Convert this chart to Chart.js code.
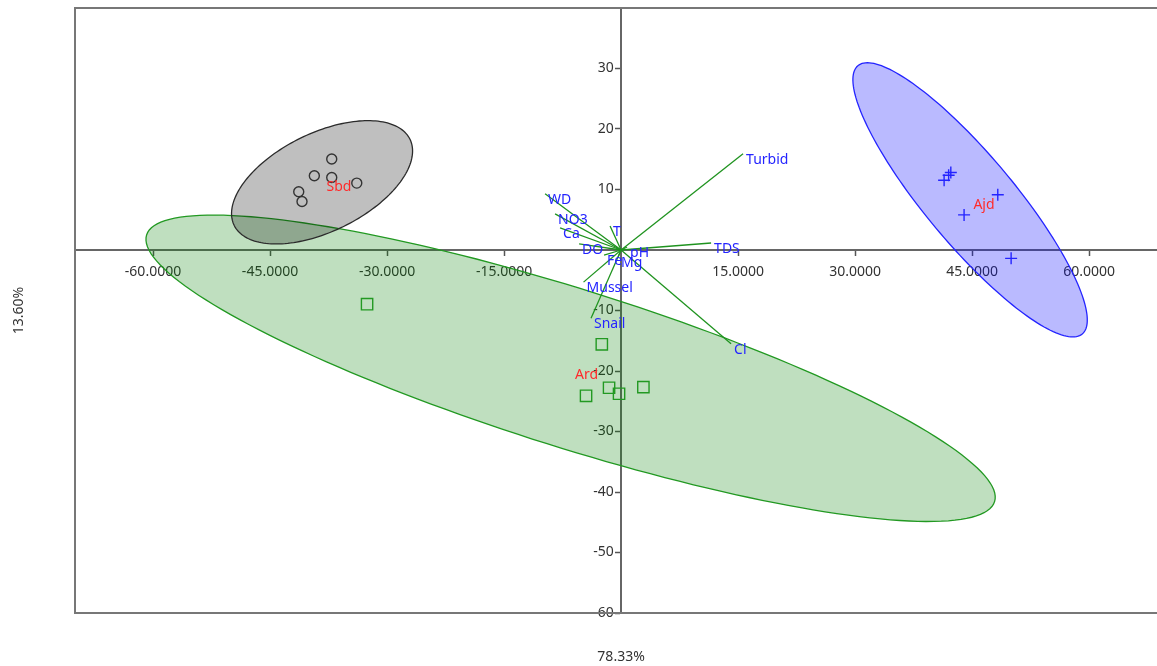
<!DOCTYPE html>
<html>
<head>
<meta charset="utf-8">
<script src="https://cdn.jsdelivr.net/npm/chart.js@4"></script>
<style>
  body { margin: 0; background: #fff; }
</style>
</head>
<body>
<canvas id="myChart" width="1157" height="666"></canvas>
<script>
// group scores (PC1, PC2)
var groupNames = ['Sbd', 'Ard', 'Ajd'];
var sbdPoints = [[-37.09, 15.04], [-39.32, 12.27], [-37.09, 11.99], [-33.88, 11.06], [-41.32, 9.62], [-40.90, 8.01]];
var ardPoints = [[-32.56, -8.96], [-2.47, -15.59], [-4.49, -24.10], [-1.54, -22.77], [-0.26, -23.76], [2.86, -22.67]];
var ajdPoints = [[42.27, 12.82], [41.99, 12.35], [41.41, 11.53], [48.29, 9.12], [43.97, 5.80], [50.00, -1.38]];

// 95% ellipses: centre and two half-axis vectors (data units)
var ellipseCenter = [[-38.33, 11.19], [-6.47, -19.55], [44.74, 8.29]];
var ellipseAxisA  = [[11.27, 7.11], [54.35, -22.04], [14.38, -22.17]];
var ellipseAxisB  = [[2.76, -7.30], [-3.02, -12.47], [-4.35, -4.71]];

// variable loadings
var variableNames = ['Turbid', 'TDS', 'Cl', 'WD', 'NO3', 'Ca', 'T', 'DO', 'Fe', 'Mg', 'pH', 'Mussel', 'Snail'];
var variableX = [15.64, 11.54, 14.10, -9.74, -8.46, -7.82, -1.41, -5.38, -2.18, -0.38, 0.77, -4.81, -3.85];
var variableY = [15.92, 1.16, -15.51, 9.29, 5.97, 3.65, 3.98, 1.00, -0.83, -1.16, 0.50, -5.31, -11.28];

var xTickValues = [-60, -45, -30, -15, 15, 30, 45, 60];
var yTickValues = [-60, -50, -40, -30, -20, -10, 10, 20, 30];
var xTitle = '78.33%';
var yTitle = '13.60%';

var groupColor = ['#2b2b2b', '#229922', '#2424ff'];
var groupFill = ['rgba(0,0,0,0.25)', 'rgba(0,128,0,0.25)', 'rgba(0,0,255,0.27)'];
var FONT = '"Noto Sans", "Open Sans", sans-serif';

function toXY(arr) {
    return arr.map(function (p) { return {x: p[0], y: p[1]}; });
}

var datasets = [];
variableNames.forEach(function (name, i) {
    datasets.push({
        label: name,
        data: [{x: 0, y: 0}, {x: variableX[i], y: variableY[i]}],
        showLine: true,
        borderColor: '#1f931f',
        borderWidth: 1.3,
        pointRadius: 0
    });
});
datasets.push({
    label: 'Sbd', data: toXY(sbdPoints), pointStyle: 'circle', pointRadius: 5,
    borderColor: '#333', backgroundColor: 'rgba(0,0,0,0)', borderWidth: 1.4
});
datasets.push({
    label: 'Ard', data: toXY(ardPoints), pointStyle: 'rect', pointRadius: 8,
    borderColor: '#229922', backgroundColor: 'rgba(0,0,0,0)', borderWidth: 1.4
});
datasets.push({
    label: 'Ajd', data: toXY(ajdPoints), pointStyle: 'cross', pointRadius: 6,
    borderColor: '#2424ff', borderWidth: 1.4
});

var ellipses = {
    id: 'ellipses',
    beforeDatasetsDraw: function (chart) {
        var ctx = chart.ctx, xs = chart.scales.x, ys = chart.scales.y, a = chart.chartArea;
        ctx.save();
        ctx.beginPath();
        ctx.rect(a.left, a.top, a.right - a.left, a.bottom - a.top);
        ctx.clip();
        [1, 0, 2].forEach(function (i) {
            var c = ellipseCenter[i], u = ellipseAxisA[i], v = ellipseAxisB[i];
            ctx.beginPath();
            for (var k = 0; k <= 180; k++) {
                var t = k / 180 * 2 * Math.PI;
                var px = xs.getPixelForValue(c[0] + u[0] * Math.cos(t) + v[0] * Math.sin(t));
                var py = ys.getPixelForValue(c[1] + u[1] * Math.cos(t) + v[1] * Math.sin(t));
                if (k === 0) ctx.moveTo(px, py); else ctx.lineTo(px, py);
            }
            ctx.closePath();
            ctx.fillStyle = groupFill[i];
            ctx.fill();
            ctx.lineWidth = 1.3;
            ctx.strokeStyle = groupColor[i];
            ctx.stroke();
        });
        ctx.restore();
    }
};

var labelsAndFrame = {
    id: 'labelsAndFrame',
    afterDraw: function (chart) {
        var ctx = chart.ctx, xs = chart.scales.x, ys = chart.scales.y, a = chart.chartArea;
        ctx.save();
        // frame
        ctx.strokeStyle = '#777';
        ctx.lineWidth = 2;
        ctx.beginPath();
        ctx.moveTo(a.right, a.top); ctx.lineTo(a.left, a.top);
        ctx.lineTo(a.left, a.bottom); ctx.lineTo(a.right, a.bottom);
        ctx.stroke();

        ctx.font = '14px ' + FONT;
        ctx.textAlign = 'left';
        ctx.textBaseline = 'middle';
        // variable labels
        ctx.fillStyle = '#2424ff';
        variableNames.forEach(function (name, i) {
            ctx.fillText(name, xs.getPixelForValue(variableX[i]) + 3, ys.getPixelForValue(variableY[i]) + 6);
        });
        // group labels at centroids
        ctx.fillStyle = '#ff2a2a';
        [sbdPoints, ardPoints, ajdPoints].forEach(function (pts, i) {
            var mx = 0, my = 0;
            pts.forEach(function (p) { mx += p[0]; my += p[1]; });
            mx /= pts.length; my /= pts.length;
            ctx.fillText(groupNames[i], xs.getPixelForValue(mx) + 4, ys.getPixelForValue(my) + 6);
        });
        // axis titles
        ctx.fillStyle = '#333';
        ctx.textAlign = 'center';
        ctx.fillText(xTitle, xs.getPixelForValue(0), 657);
        ctx.translate(19, (a.top + a.bottom) / 2);
        ctx.rotate(-Math.PI / 2);
        ctx.fillText(yTitle, 0, 0);
        ctx.restore();
    }
};

var ctx = document.getElementById('myChart');
var myChart = new Chart(ctx, {
    type: 'scatter',
    data: { datasets: datasets },
    options: {
        responsive: false,
        animation: false,
        layout: { autoPadding: false, padding: { left: 75, top: 8, right: 0, bottom: 53 } },
        plugins: { legend: { display: false }, tooltip: { enabled: false } },
        scales: {
            x: {
                type: 'linear', min: -70, max: 68.7, position: { y: 0 },
                afterBuildTicks: function (s) { s.ticks = xTickValues.map(function (v) { return {value: v}; }); },
                afterFit: function (s) { s.height = 0; s.paddingLeft = 0; s.paddingRight = 0; },
                ticks: {
                    autoSkip: false, maxRotation: 0, padding: 9, color: '#333',
                    font: { family: FONT, size: 14 },
                    callback: function (v) { return Number(v).toFixed(4); }
                },
                grid: { drawOnChartArea: false, drawTicks: true, tickLength: 5, tickColor: '#555', tickWidth: 1.5 },
                border: { display: true, color: '#666', width: 2 }
            },
            y: {
                type: 'linear', min: -60, max: 40, position: { x: 0 },
                afterBuildTicks: function (s) { s.ticks = yTickValues.map(function (v) { return {value: v}; }); },
                afterFit: function (s) { s.width = 0; s.paddingTop = 0; s.paddingBottom = 0; },
                ticks: {
                    autoSkip: false, padding: 2, color: '#333',
                    font: { family: FONT, size: 14 },
                    callback: function (v) { return String(v) + '  '; }
                },
                grid: { drawOnChartArea: false, drawTicks: true, tickLength: 5, tickColor: '#555', tickWidth: 1.5 },
                border: { display: true, color: '#666', width: 2 }
            }
        }
    },
    plugins: [ellipses, labelsAndFrame]
});
</script>
</body>
</html>
